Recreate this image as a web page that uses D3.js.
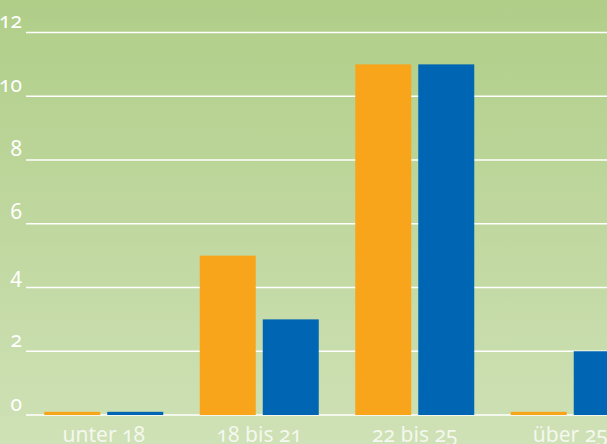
<!DOCTYPE html>
<html><head><meta charset="utf-8">
<script src="https://cdn.jsdelivr.net/npm/d3@7"></script>
<style>
html,body{margin:0;padding:0;overflow:hidden;background:#c0d8a0;}
text{font-family:"Noto Sans","Open Sans",sans-serif;font-variant-numeric:oldstyle-nums;font-feature-settings:"onum" 1;}
</style></head><body>
<svg id="c" width="607" height="444"></svg>
<script>
const categories = ["unter 18", "18 bis 21", "22 bis 25", "über 25"];
const seriesNames = ["A", "B"];
const seriesA = [0.1, 5, 11, 0.1];
const seriesB = [0.1, 3, 11, 2];
const yTicks = [0, 2, 4, 6, 8, 10, 12];
const colors = ["#f9a51b", "#0066b3"];

const W = 607, H = 444;
const svg = d3.select("#c");
const defs = svg.append("defs");
const g = defs.append("linearGradient").attr("id","bg").attr("x1",0).attr("y1",0).attr("x2",0).attr("y2",1);
g.append("stop").attr("offset","0%").attr("stop-color","#b0ce88");
g.append("stop").attr("offset","100%").attr("stop-color","#cfe1b6");
svg.append("rect").attr("width",W).attr("height",H).attr("fill","url(#bg)");

const y = d3.scaleLinear().domain([0,12]).range([415,32.5]);
const x = d3.scaleBand().domain(categories).range([26,648]).paddingInner(0.2347).paddingOuter(0.1174);
const x1 = d3.scaleBand().domain(seriesNames).range([0,x.bandwidth()]).paddingInner(0.111);

// gridlines
svg.append("g").selectAll("line").data(yTicks).join("line")
  .attr("x1",26).attr("x2",W).attr("y1",d=>y(d)).attr("y2",d=>y(d))
  .attr("stroke","#fff").attr("stroke-width",1.5);
svg.append("g").selectAll("text").data(yTicks).join("text")
  .attr("x",22).attr("y",d=>y(d)-4.5).attr("text-anchor","end").attr("fill","#fff").attr("font-size",21)
  .text(d=>d);

const data = categories.map((c,i)=>({c, vals:[seriesA[i], seriesB[i]]}));
const grp = svg.append("g").selectAll("g").data(data).join("g")
  .attr("transform",d=>`translate(${x(d.c)},0)`);
grp.selectAll("rect").data(d=>d.vals.map((v,j)=>({k:seriesNames[j],v,j}))).join("rect")
  .attr("x",d=>x1(d.k)).attr("width",x1.bandwidth())
  .attr("y",d=>y(d.v)).attr("height",d=>y(0)-y(d.v))
  .attr("fill",d=>colors[d.j]);

svg.append("g").selectAll("text").data(categories).join("text")
  .attr("x",d=>x(d)+x.bandwidth()/2).attr("y",442).attr("text-anchor","middle")
  .attr("fill","#f4f8ee").attr("font-size",21).text(d=>d);
</script></body></html>
